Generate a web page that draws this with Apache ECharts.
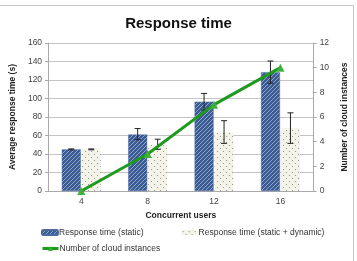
<!DOCTYPE html>
<html>
<head>
<meta charset="utf-8">
<script src="https://cdn.jsdelivr.net/npm/echarts@6/dist/echarts.min.js"></script>
<style>
  html, body { margin: 0; padding: 0; background: #fff; overflow: hidden; }
  #chart { width: 357px; height: 261px; }
  .frame { position: absolute; left: -2px; top: 5px; width: 355px; height: 270px; border-top: 1px solid #c8c8c8; border-right: 1px solid #c8c8c8; pointer-events: none; }
</style>
</head>
<body>
<div id="chart"></div>
<div class="frame"></div>
<script>
const users = ['4', '8', '12', '16'];
const staticTime = [45, 61, 96.5, 128.5];
const staticLow = [44.5, 55.5, 87.5, 116.5];
const staticHigh = [45.5, 67.5, 105.5, 140.5];
const mixedTime = [45, 49.5, 63.5, 68];
const mixedLow = [44.5, 45, 51.5, 51.5];
const mixedHigh = [45.5, 56, 76, 84.5];
const instances = [0, 3, 7, 10];

function hatchPattern() {
  const c = document.createElement('canvas');
  c.width = 4; c.height = 4;
  const g = c.getContext('2d');
  g.fillStyle = '#3a5b94';
  g.fillRect(0, 0, 4, 4);
  g.strokeStyle = '#8ea4c9';
  g.lineWidth = 1;
  g.beginPath();
  g.moveTo(-1, 1); g.lineTo(1, -1);
  g.moveTo(0, 4); g.lineTo(4, 0);
  g.moveTo(3, 5); g.lineTo(5, 3);
  g.stroke();
  return c;
}

function dotPattern() {
  const c = document.createElement('canvas');
  c.width = 6; c.height = 6;
  const g = c.getContext('2d');
  g.fillStyle = '#f4f3ea';
  g.fillRect(0, 0, 6, 6);
  g.fillStyle = '#9a9a8c';
  g.fillRect(1, 1, 1, 1);
  g.fillRect(4, 4, 1, 1);
  return c;
}

const chart = echarts.init(document.getElementById('chart'));

function errorBars(low, high, offset) {
  return {
    type: 'custom',
    silent: true,
    z: 5,
    data: users.map((u, i) => [i, low[i], high[i]]),
    renderItem: function (params, api) {
      const x = api.value(0);
      const lo = api.coord([x, api.value(1)]);
      const hi = api.coord([x, api.value(2)]);
      const cx = lo[0] + offset;
      const style = { stroke: '#222', lineWidth: 1 };
      return {
        type: 'group',
        children: [
          { type: 'line', shape: { x1: cx, y1: hi[1], x2: cx, y2: lo[1] }, style: style },
          { type: 'line', shape: { x1: cx - 3, y1: hi[1], x2: cx + 3, y2: hi[1] }, style: style },
          { type: 'line', shape: { x1: cx - 3, y1: lo[1], x2: cx + 3, y2: lo[1] }, style: style }
        ]
      };
    }
  };
}

const staticColor = { image: hatchPattern(), repeat: 'repeat' };
const mixedColor = { image: dotPattern(), repeat: 'repeat' };

const legendText = { fontSize: 8.5, color: '#333', padding: [0, 0, 0, -4] };

chart.setOption({
  animation: false,
  textStyle: { fontFamily: 'Liberation Sans, Arial, sans-serif' },
  title: {
    text: 'Response time',
    left: 'center',
    top: 11,
    textStyle: { fontSize: 15, fontWeight: 'bold', color: '#111' }
  },
  legend: [
    {
      left: 41,
      top: 228,
      padding: 0,
      itemWidth: 16,
      itemHeight: 5,
      itemGap: 38,
      textStyle: legendText,
      data: ['Response time (static)', 'Response time (static + dynamic)']
    },
    {
      left: 41,
      top: 244,
      padding: 0,
      itemWidth: 16,
      itemHeight: 6,
      lineStyle: { width: 3 },
      textStyle: legendText,
      data: ['Number of cloud instances']
    }
  ],
  grid: { left: 42, right: 41, top: 43, bottom: 70 },
  xAxis: {
    type: 'category',
    data: users,
    name: 'Concurrent users',
    nameLocation: 'middle',
    nameGap: 18,
    nameTextStyle: { fontSize: 8.5, fontWeight: 'bold', color: '#222' },
    axisLine: { lineStyle: { color: '#aaa' } },
    axisTick: { length: 3, lineStyle: { color: '#aaa' } },
    axisLabel: { fontSize: 8.5, color: '#444', margin: 6 }
  },
  yAxis: [
    {
      type: 'value',
      min: 0, max: 160, interval: 20,
      name: 'Average response time (s)',
      nameLocation: 'middle',
      nameGap: 23,
      nameTextStyle: { fontSize: 8.5, fontWeight: 'bold', color: '#222' },
      axisLine: { show: true, lineStyle: { color: '#aaa' } },
      axisTick: { show: true, length: 3, lineStyle: { color: '#aaa' } },
      axisLabel: { fontSize: 8.5, color: '#444', margin: 6 },
      splitLine: { lineStyle: { color: '#c4c4c4' } }
    },
    {
      type: 'value',
      min: 0, max: 12, interval: 2,
      name: 'Number of cloud instances',
      nameLocation: 'middle',
      nameGap: 21,
      nameRotate: 90,
      nameTextStyle: { fontSize: 8.5, fontWeight: 'bold', color: '#222' },
      axisLine: { show: true, lineStyle: { color: '#aaa' } },
      axisTick: { show: true, length: 3, lineStyle: { color: '#aaa' } },
      axisLabel: { fontSize: 8.5, color: '#444', margin: 6 },
      splitLine: { show: false }
    }
  ],
  series: [
    {
      name: 'Response time (static)',
      type: 'bar',
      data: staticTime,
      barWidth: 19,
      barGap: '5%',
      itemStyle: { color: staticColor, borderColor: '#4b6aa0', borderWidth: 0.5 }
    },
    {
      name: 'Response time (static + dynamic)',
      type: 'bar',
      data: mixedTime,
      barWidth: 19,
      barGap: '5%',
      itemStyle: { color: mixedColor }
    },
    errorBars(staticLow, staticHigh, -10),
    errorBars(mixedLow, mixedHigh, 10),
    {
      name: 'Number of cloud instances',
      type: 'line',
      yAxisIndex: 1,
      data: instances,
      symbol: 'triangle',
      symbolSize: 8,
      z: 10,
      lineStyle: { color: '#1e9a1e', width: 3 },
      itemStyle: { color: '#3cb23c' }
    }
  ]
});
</script>
</body>
</html>
